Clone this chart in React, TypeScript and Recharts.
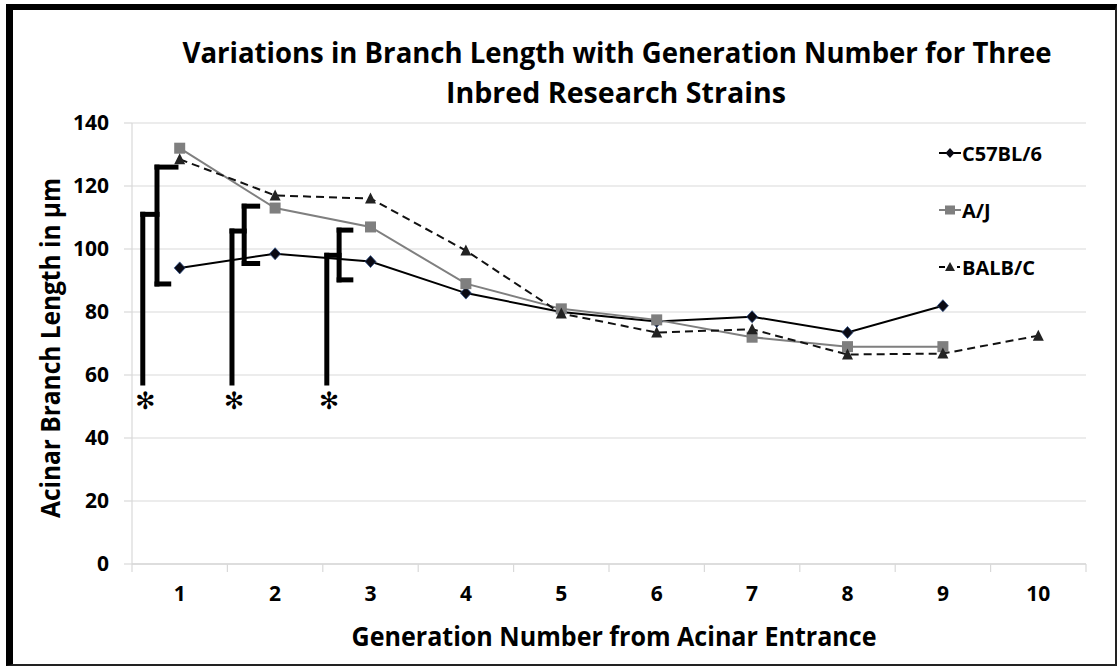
import React from "react";
import {
  LineChart,
  Line,
  XAxis,
  YAxis,
  CartesianGrid,
  ReferenceLine,
  ReferenceDot,
  Legend,
} from "recharts";

const generations = [1, 2, 3, 4, 5, 6, 7, 8, 9, 10];
const c57Values = [94, 98.5, 96, 86, 80, 77, 78.5, 73.5, 82, null];
const ajValues = [132, 113, 107, 89, 81, 77.5, 72, 69, 69, null];
const balbValues = [128.5, 117, 116, 99.5, 79.5, 73.5, 74.5, 66.5, 66.8, 72.5];
const yTicks = [0, 20, 40, 60, 80, 100, 120, 140];
const bandEdges = [0.5, 1.5, 2.5, 3.5, 4.5, 5.5, 6.5, 7.5, 8.5, 9.5, 10.5];
const seriesKeys = ["c57", "aj", "balb"];
const seriesNames = ["C57BL/6", "A/J", "BALB/C"];

const titleLine1 = "Variations in Branch Length with Generation Number for Three";
const titleLine2 = "Inbred Research Strains";
const xTitle = "Generation Number from Acinar Entrance";
const yTitle = "Acinar Branch Length in µm";

// significance brackets (data units)
const stemBase = 57.5;
const brackets = [
  { stemX: 0.613, stemTop: 111, barX: 0.762, barLow: 88.9, barHigh: 126, topEnd: 0.961, lowEnd: 0.885, starX: 0.64 },
  { stemX: 1.548, stemTop: 105.7, barX: 1.676, barLow: 95.4, barHigh: 113.6, topEnd: 1.817, lowEnd: 1.817, starX: 1.57 },
  { stemX: 2.542, stemTop: 98, barX: 2.671, barLow: 90.2, barHigh: 106, topEnd: 2.794, lowEnd: 2.794, starX: 2.565 },
];
const starY = 52;

const data = generations.map((g, i) => ({
  gen: g,
  c57: c57Values[i],
  aj: ajValues[i],
  balb: balbValues[i],
}));

const FONT = "'Open Sans', 'DejaVu Sans', sans-serif";

const Diamond = (p: any) => {
  const { cx, cy, index } = p;
  if (cx == null || cy == null || isNaN(cy)) return <g key={`d${index}`} />;
  return (
    <polygon
      key={`d${index}`}
      points={`${cx},${cy - 6} ${cx + 5.5},${cy} ${cx},${cy + 6} ${cx - 5.5},${cy}`}
      fill="#0a0a14"
      stroke="#2e4f86"
      strokeWidth={0.8}
    />
  );
};
const Square = (p: any) => {
  const { cx, cy, index } = p;
  if (cx == null || cy == null || isNaN(cy)) return <g key={`s${index}`} />;
  return <rect key={`s${index}`} x={cx - 5.5} y={cy - 5.5} width={11} height={11} fill="#7f7f7f" />;
};
const Triangle = (p: any) => {
  const { cx, cy, index } = p;
  if (cx == null || cy == null || isNaN(cy)) return <g key={`t${index}`} />;
  return (
    <polygon
      key={`t${index}`}
      points={`${cx},${cy - 6} ${cx + 5.5},${cy + 5} ${cx - 5.5},${cy + 5}`}
      fill="#222"
    />
  );
};

const LegendIcon = ({ k }: { k: string }) => {
  if (k === "c57")
    return (
      <svg width={23} height={24} style={{ display: "block" }}>
        <line x1={0} y1={12} x2={22} y2={12} stroke="#000" strokeWidth={2} />
        <polygon points="11,7 15.5,12 11,17 6.5,12" fill="#0a0a14" />
      </svg>
    );
  if (k === "aj")
    return (
      <svg width={23} height={24} style={{ display: "block" }}>
        <line x1={0} y1={12} x2={22} y2={12} stroke="#7f7f7f" strokeWidth={2} />
        <rect x={6} y={7.5} width={10} height={9} fill="#7f7f7f" />
      </svg>
    );
  return (
    <svg width={23} height={24} style={{ display: "block" }}>
      <line x1={0} y1={12} x2={6} y2={12} stroke="#000" strokeWidth={2} />
      <polygon points="11,7 16,16 6,16" fill="#222" />
      <line x1={18} y1={12} x2={21} y2={12} stroke="#000" strokeWidth={2} />
    </svg>
  );
};

const renderLegend = () => (
  <div>
    {seriesKeys.map((k, i) => (
      <div key={k} style={{ display: "flex", alignItems: "center", height: 24, marginBottom: 33 }}>
        <LegendIcon k={k} />
        <span style={{ fontFamily: FONT, fontWeight: 700, fontSize: 20, color: "#000" }}>
          {seriesNames[i]}
        </span>
      </div>
    ))}
  </div>
);

export default function App() {
  const segs: any[] = [];
  brackets.forEach((b) => {
    segs.push([{ x: b.stemX, y: stemBase }, { x: b.stemX, y: b.stemTop }]);
    segs.push([{ x: b.stemX, y: b.stemTop }, { x: b.barX, y: b.stemTop }]);
    segs.push([{ x: b.barX, y: b.barLow }, { x: b.barX, y: b.barHigh }]);
    segs.push([{ x: b.barX, y: b.barHigh }, { x: b.topEnd, y: b.barHigh }]);
    segs.push([{ x: b.barX, y: b.barLow }, { x: b.lowEnd, y: b.barLow }]);
  });

  return (
    <div style={{ position: "absolute", left: 0, top: 0, width: 1119, height: 667, background: "#fff" }}>
      <LineChart
        width={1119}
        height={667}
        data={data}
        margin={{ top: 123, right: 33, left: 72, bottom: 50 }}
      >
        <CartesianGrid xAxisId="grid" vertical={false} stroke="#d9d9d9" strokeWidth={1.2} />
        <XAxis
          xAxisId="grid"
          dataKey="gen"
          type="number"
          domain={[0.5, 10.5]}
          ticks={bandEdges}
          interval={0}
          tickFormatter={() => ""}
          tickLine={{ stroke: "#d9d9d9", strokeWidth: 1.2 }}
          axisLine={{ stroke: "#d9d9d9", strokeWidth: 1.5 }}
          tickSize={8}
          height={8}
        />
        <XAxis
          xAxisId="labels"
          dataKey="gen"
          type="number"
          domain={[0.5, 10.5]}
          ticks={generations}
          interval={0}
          axisLine={false}
          tickLine={false}
          tickSize={0}
          tickMargin={14}
          height={45}
          tick={{ fontFamily: FONT, fontWeight: 700, fontSize: 21, fill: "#000" }}
        />
        <YAxis
          domain={[0, 140]}
          ticks={yTicks}
          interval={0}
          width={60}
          tickSize={8}
          tickMargin={15}
          tickLine={{ stroke: "#d9d9d9", strokeWidth: 1.2 }}
          axisLine={{ stroke: "#d9d9d9", strokeWidth: 1.2 }}
          tick={{ fontFamily: FONT, fontWeight: 700, fontSize: 21, fill: "#000" }}
        />
        {segs.map((s, i) => (
          <ReferenceLine
            key={`seg${i}`}
            xAxisId="grid"
            segment={s}
            stroke="#000"
            strokeWidth={5}
            strokeLinecap="square"
          />
        ))}
        {brackets.map((b, i) => (
          <ReferenceDot
            key={`star${i}`}
            xAxisId="grid"
            x={b.starX}
            y={starY}
            r={0}
            fill="none"
            stroke="none"
            label={{ value: "✻", position: "center", fontSize: 24, fill: "#000", fontFamily: "'DejaVu Sans'" }}
          />
        ))}
        <Line
          xAxisId="grid"
          dataKey="c57"
          name="C57BL/6"
          stroke="#000"
          strokeWidth={2}
          dot={Diamond}
          activeDot={false}
          isAnimationActive={false}
        />
        <Line
          xAxisId="grid"
          dataKey="aj"
          name="A/J"
          stroke="#7f7f7f"
          strokeWidth={2}
          dot={Square}
          activeDot={false}
          isAnimationActive={false}
        />
        <Line
          xAxisId="grid"
          dataKey="balb"
          name="BALB/C"
          stroke="#111"
          strokeWidth={2}
          strokeDasharray="8 5"
          dot={Triangle}
          activeDot={false}
          isAnimationActive={false}
        />
        <Legend
          layout="vertical"
          align="center"
          verticalAlign="middle"
          content={renderLegend}
          wrapperStyle={{ position: "absolute", left: 939, top: 141, width: 170 }}
        />
      </LineChart>
      <svg
        width={1119}
        height={667}
        style={{ position: "absolute", left: 0, top: 0, pointerEvents: "none" }}
      >
        <text
          x={617}
          y={63}
          textAnchor="middle"
          fontFamily={FONT}
          fontWeight={700}
          fontSize={28}
          textLength={869}
          lengthAdjust="spacingAndGlyphs"
          fill="#000"
        >
          {titleLine1}
        </text>
        <text
          x={616}
          y={103}
          textAnchor="middle"
          fontFamily={FONT}
          fontWeight={700}
          fontSize={28}
          textLength={340}
          lengthAdjust="spacingAndGlyphs"
          fill="#000"
        >
          {titleLine2}
        </text>
        <text
          x={614}
          y={646}
          textAnchor="middle"
          fontFamily={FONT}
          fontWeight={700}
          fontSize={26}
          textLength={525}
          lengthAdjust="spacingAndGlyphs"
          fill="#000"
        >
          {xTitle}
        </text>
        <text
          x={0}
          y={0}
          transform="translate(60,348) rotate(-90)"
          textAnchor="middle"
          fontFamily={FONT}
          fontWeight={700}
          fontSize={26}
          textLength={340}
          lengthAdjust="spacingAndGlyphs"
          fill="#000"
        >
          {yTitle}
        </text>
      </svg>
      <div
        style={{
          position: "absolute",
          left: 6,
          top: 4,
          width: 1111,
          height: 662,
          boxSizing: "border-box",
          borderTop: "6px solid #000",
          borderLeft: "7px solid #000",
          borderRight: "2px solid #222",
          borderBottom: "2px solid #222",
          pointerEvents: "none",
        }}
      />
    </div>
  );
}
